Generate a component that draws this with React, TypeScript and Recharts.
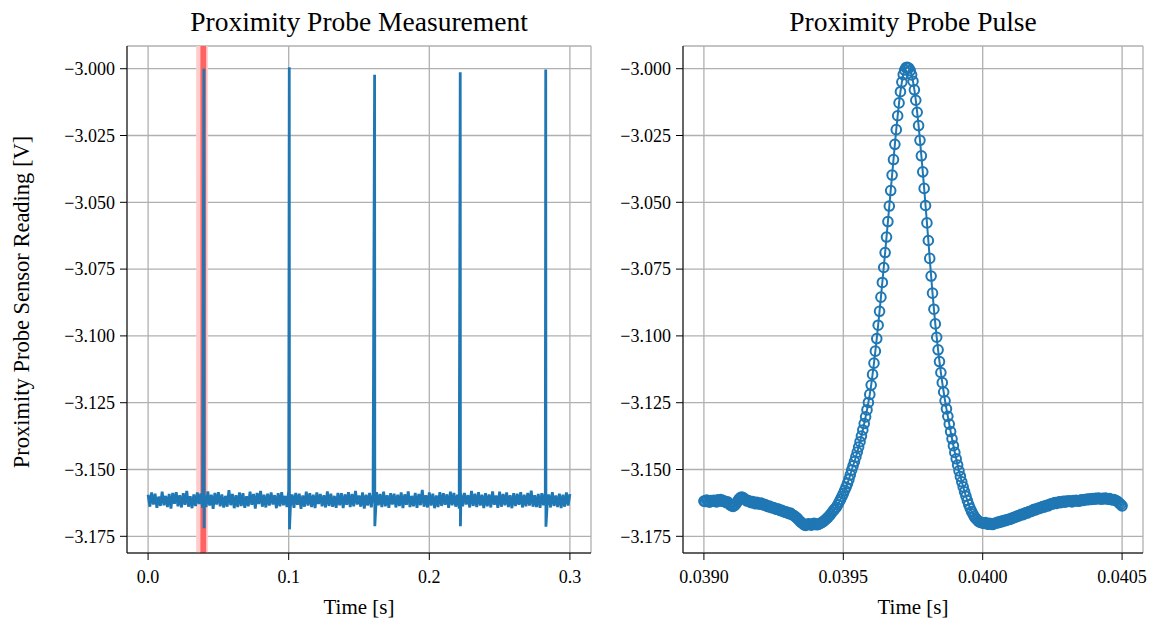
import React from 'react';
import { LineChart, Line, XAxis, YAxis, CartesianGrid, ReferenceArea } from 'recharts';

const BLUE = '#1f77b4';
const FONT = '"Liberation Serif", "Times New Roman", serif';

// full record: rest level + per-sample offsets (in 0.14 mV), one sample every 1.25 ms
const BASE_LEVEL = -3.1614;
const NOISE_UNIT = 0.00014;
const BASE_DT = 0.00125;
const baselineNoise = [
  14, -18, 20, -12, 17, -21, 9, -16, 22, -14,
  11, -19, 16, -23, 19, -10, 21, -17, 13, -20,
  18, -13, 24, -18, 10, -22, 15, -16, 20, -11,
  17, -21, 12, -19, 23, -15, 14, -24, 19, -12,
  21, -17, 15, -20, 11, -18, 26, -14, 16, -22,
  13, -19, 20, -16, 18, -21, 10, -17, 22, -13,
  16, -23, 19, -11, 24, -18, 14, -20, 17, -15,
  20, -12, 13, -22, 18, -17, 21, -14, 11, -19,
  25, -16, 15, -21, 19, -13, 17, -24, 12, -18,
  22, -15, 18, -19, 14, -22, 20, -11, 16, -17,
  13, -20, 23, -16, 17, -18, 11, -21, 19, -14,
  18, -22, 15, -13, 21, -19, 16, -17, 24, -12,
  12, -18, 20, -23, 14, -15, 19, -20, 17, -16,
  21, -14, 16, -19, 22, -17, 13, -21, 18, -12,
  17, -20, 14, -16, 20, -22, 15, -13, 23, -19,
  11, -17, 19, -21, 16, -14, 27, -18, 13, -20,
  20, -15, 17, -22, 12, -19, 21, -16, 18, -13,
  15, -21, 22, -14, 19, -18, 14, -23, 16, -17,
  19, -12, 13, -20, 24, -16, 17, -19, 21, -15,
  14, -22, 18, -17, 15, -20, 23, -13, 12, -21,
  22, -18, 16, -14, 20, -19, 13, -22, 18, -16,
  17, -13, 21, -20, 14, -17, 19, -15, 25, -18,
  13, -19, 16, -21, 18, -14, 20, -17, 15, -20,
  21, -16, 12, -19, 17, -22, 14, -18, 20, -15,
  16,
];

// probe pulses in the full record
const spikeTimes = [0.0397, 0.1004, 0.1611, 0.222, 0.2828];
const spikePeaks = [-3.0, -2.9995, -3.0023, -3.0013, -3.0003];
const spikeDips = [-3.172, -3.1724, -3.1712, -3.1712, -3.1714];

// zoomed pulse, 5 us sampling from 0.0390 s
const PULSE_T0 = 0.039;
const PULSE_DT = 0.000005;
const pulseValues = [
  -3.1618, -3.1620, -3.1614, -3.1619, -3.1622, -3.1616, -3.1619, -3.1615, -3.1618, -3.1621,
  -3.1613, -3.1617, -3.1612, -3.1619, -3.1616, -3.1620, -3.1624, -3.1621, -3.1628, -3.1633,
  -3.1636, -3.1638, -3.1634, -3.1629, -3.1620, -3.1612, -3.1606, -3.1603, -3.1605, -3.1609,
  -3.1614, -3.1618, -3.1616, -3.1621, -3.1624, -3.1620, -3.1625, -3.1628, -3.1623, -3.1627,
  -3.1630, -3.1626, -3.1629, -3.1633, -3.1631, -3.1636, -3.1639, -3.1637, -3.1641, -3.1644,
  -3.1642, -3.1646, -3.1649, -3.1647, -3.1651, -3.1654, -3.1653, -3.1657, -3.1660, -3.1658,
  -3.1662, -3.1665, -3.1663, -3.1668, -3.1671, -3.1674, -3.1678, -3.1683, -3.1689, -3.1694,
  -3.1699, -3.1703, -3.1707, -3.1709, -3.1706, -3.1703, -3.1705, -3.1708, -3.1704, -3.1701,
  -3.1704, -3.1707, -3.1705, -3.1703, -3.1700, -3.1697, -3.1693, -3.1689, -3.1684, -3.1679,
  -3.1673, -3.1667, -3.1660, -3.1653, -3.1647, -3.1641, -3.1632, -3.1622, -3.1612, -3.1601,
  -3.1590, -3.1578, -3.1566, -3.1552, -3.1537, -3.1520, -3.1502, -3.1486, -3.1470, -3.1453,
  -3.1435, -3.1416, -3.1396, -3.1375, -3.1352, -3.1328, -3.1303, -3.1277, -3.1249, -3.1219,
  -3.1184, -3.1144, -3.1102, -3.1057, -3.1010, -3.0960, -3.0908, -3.0855, -3.0800, -3.0744,
  -3.0688, -3.0630, -3.0572, -3.0514, -3.0456, -3.0398, -3.0340, -3.0283, -3.0228, -3.0176,
  -3.0128, -3.0086, -3.0050, -3.0022, -3.0005, -2.9996, -2.9995, -2.9998, -3.0007, -3.0023,
  -3.0047, -3.0079, -3.0118, -3.0163, -3.0213, -3.0268, -3.0326, -3.0386, -3.0448, -3.0512,
  -3.0577, -3.0643, -3.0710, -3.0776, -3.0840, -3.0900, -3.0955, -3.1005, -3.1052, -3.1096,
  -3.1137, -3.1175, -3.1210, -3.1243, -3.1273, -3.1301, -3.1330, -3.1358, -3.1385, -3.1411,
  -3.1436, -3.1460, -3.1483, -3.1505, -3.1526, -3.1546, -3.1565, -3.1583, -3.1600, -3.1616,
  -3.1631, -3.1645, -3.1657, -3.1667, -3.1676, -3.1683, -3.1689, -3.1694, -3.1697, -3.1699,
  -3.1700, -3.1702, -3.1699, -3.1703, -3.1705, -3.1701, -3.1704, -3.1706, -3.1703, -3.1700,
  -3.1701, -3.1697, -3.1698, -3.1694, -3.1695, -3.1691, -3.1692, -3.1688, -3.1689, -3.1685,
  -3.1686, -3.1682, -3.1681, -3.1678, -3.1677, -3.1673, -3.1674, -3.1670, -3.1668, -3.1669,
  -3.1664, -3.1662, -3.1663, -3.1658, -3.1656, -3.1657, -3.1652, -3.1649, -3.1651, -3.1647,
  -3.1644, -3.1646, -3.1641, -3.1639, -3.1641, -3.1636, -3.1634, -3.1636, -3.1631, -3.1628,
  -3.1630, -3.1626, -3.1624, -3.1627, -3.1623, -3.1621, -3.1624, -3.1620, -3.1619, -3.1622,
  -3.1618, -3.1620, -3.1617, -3.1619, -3.1621, -3.1616, -3.1618, -3.1615, -3.1617, -3.1619,
  -3.1615, -3.1613, -3.1616, -3.1612, -3.1614, -3.1611, -3.1613, -3.1610, -3.1612, -3.1609,
  -3.1611, -3.1608, -3.1610, -3.1607, -3.1609, -3.1611, -3.1608, -3.1610, -3.1607, -3.1609,
  -3.1611, -3.1609, -3.1612, -3.1614, -3.1612, -3.1615, -3.1617, -3.1621, -3.1626, -3.1631,
  -3.1636,
];

const yTicks = [-3.175, -3.15, -3.125, -3.1, -3.075, -3.05, -3.025, -3.0];
const leftXTicks = [0, 0.1, 0.2, 0.3];
const rightXTicks = [0.039, 0.0395, 0.04, 0.0405];
const yDomain = [-3.18125, -2.9915];
const leftXDomain = [-0.015, 0.315];
const rightXDomain = [0.038925, 0.040575];
// highlighted pulse window in the full record
const windowGlow = [0.0342, 0.0425];
const windowCore = [0.0372, 0.0413];

const measurement = [
  ...baselineNoise.map((d, i) => ({ t: i * BASE_DT, v: BASE_LEVEL + d * NOISE_UNIT })),
  ...spikeTimes.flatMap((t, i) => [
    { t, v: spikePeaks[i] },
    { t: t + 0.00015, v: spikeDips[i] },
  ]),
].sort((a, b) => a.t - b.t);

const pulse = pulseValues.map((v, i) => ({ t: PULSE_T0 + i * PULSE_DT, v }));

const minus = (s: string) => s.replace('-', '\u2212');
const tickStyle = { fill: '#000', fontSize: 18, fontFamily: FONT };

const titleStyle: React.CSSProperties = {
  position: 'absolute',
  top: 6,
  transform: 'translateX(-50%)',
  fontSize: 27.5,
  whiteSpace: 'nowrap',
  color: '#000',
};

const xLabelStyle: React.CSSProperties = {
  position: 'absolute',
  top: 595,
  transform: 'translateX(-50%)',
  fontSize: 21,
  whiteSpace: 'nowrap',
  color: '#000',
};

export default function App() {
  return (
    <div style={{ position: 'absolute', left: 0, top: 0, width: 1163, height: 626, background: '#fff', fontFamily: FONT }}>
      <div style={{ position: 'absolute', left: 0, top: 0 }}>
        <LineChart width={600} height={626} data={measurement} margin={{ top: 46, right: 9, bottom: 0, left: 0 }}>
          <CartesianGrid stroke="#b0b0b0" strokeWidth={1.3} />
          <ReferenceArea x1={windowGlow[0]} x2={windowGlow[1]} fill="#ffcccc" fillOpacity={1} strokeOpacity={0} />
          <ReferenceArea x1={windowCore[0]} x2={windowCore[1]} fill="#ff6262" fillOpacity={1} strokeOpacity={0} />
          <XAxis dataKey="t" type="number" domain={leftXDomain} ticks={leftXTicks} allowDataOverflow
            tickFormatter={(v: number) => v.toFixed(1)} height={73} tickSize={7} tickMargin={10}
            stroke="#000" tick={tickStyle} />
          <XAxis xAxisId="top" orientation="top" dataKey="t" type="number" domain={leftXDomain} allowDataOverflow
            height={0} tick={false} tickLine={false} stroke="#000" />
          <YAxis type="number" domain={yDomain} ticks={yTicks} allowDataOverflow width={127}
            tickFormatter={(v: number) => minus(v.toFixed(3))} tickSize={7} tickMargin={5}
            stroke="#000" tick={tickStyle} />
          <YAxis yAxisId="right" orientation="right" type="number" domain={yDomain} allowDataOverflow
            width={0} tick={false} tickLine={false} stroke="#000" />
          <Line dataKey="v" stroke={BLUE} strokeWidth={2.8} dot={false} isAnimationActive={false} />
        </LineChart>
      </div>

      <div style={{ position: 'absolute', left: 600, top: 0 }}>
        <LineChart width={563} height={626} data={pulse} margin={{ top: 46, right: 20, bottom: 0, left: 0 }}>
          <CartesianGrid stroke="#b0b0b0" strokeWidth={1.3} />
          <XAxis dataKey="t" type="number" domain={rightXDomain} ticks={rightXTicks} allowDataOverflow
            tickFormatter={(v: number) => v.toFixed(4)} height={73} tickSize={7} tickMargin={10}
            stroke="#000" tick={tickStyle} />
          <XAxis xAxisId="top" orientation="top" dataKey="t" type="number" domain={rightXDomain} allowDataOverflow
            height={0} tick={false} tickLine={false} stroke="#000" />
          <YAxis type="number" domain={yDomain} ticks={yTicks} allowDataOverflow width={83}
            tickFormatter={(v: number) => minus(v.toFixed(3))} tickSize={7} tickMargin={5}
            stroke="#000" tick={tickStyle} />
          <YAxis yAxisId="right" orientation="right" type="number" domain={yDomain} allowDataOverflow
            width={0} tick={false} tickLine={false} stroke="#000" />
          <Line dataKey="v" stroke={BLUE} strokeWidth={2}
            dot={{ r: 4.8, stroke: BLUE, strokeWidth: 2, fill: 'none' }} isAnimationActive={false} />
        </LineChart>
      </div>

      <div style={{ ...titleStyle, left: 359 }}>Proximity Probe Measurement</div>
      <div style={{ ...titleStyle, left: 913 }}>Proximity Probe Pulse</div>
      <div style={{ ...xLabelStyle, left: 359 }}>Time [s]</div>
      <div style={{ ...xLabelStyle, left: 913 }}>Time [s]</div>
      <div style={{
        position: 'absolute', left: 22, top: 302, transform: 'translate(-50%, -50%) rotate(-90deg)',
        fontSize: 22.5, whiteSpace: 'nowrap', color: '#000',
      }}>
        Proximity Probe Sensor Reading [V]
      </div>
    </div>
  );
}
